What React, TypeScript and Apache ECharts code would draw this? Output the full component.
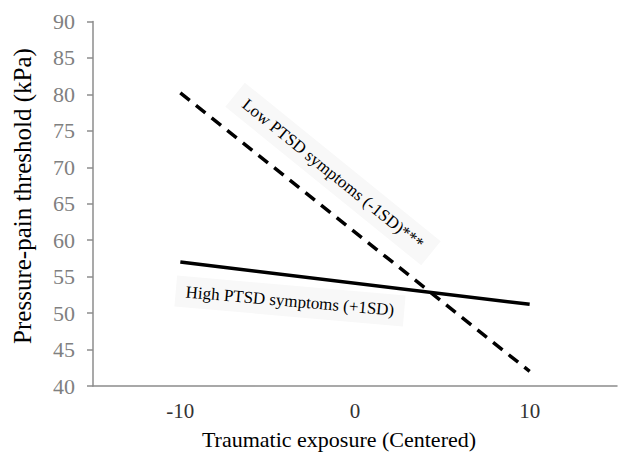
import React, { useEffect, useRef } from "react";
import * as echarts from "echarts";

const xTicks = [-10, 0, 10];
const lowPtsdX = [-10, 10];
const lowPtsdY = [80.2, 42.0];
const highPtsdX = [-10, 10];
const highPtsdY = [57.0, 51.2];

const SERIF = "Liberation Serif";

export default function App() {
  const ref = useRef<HTMLDivElement>(null);
  useEffect(() => {
    if (!ref.current) return;
    const chart = echarts.init(ref.current, undefined, { renderer: "svg" });
    chart.setOption({
      animation: false,
      backgroundColor: "#ffffff",
      textStyle: { fontFamily: SERIF },
      grid: { left: 93, right: 0, top: 21.5, bottom: 66, containLabel: false },
      xAxis: {
        type: "value",
        min: -15,
        max: 15,
        interval: 5,
        axisLine: { show: true, onZero: false, lineStyle: { color: "#8c8c8c", width: 1.5 } },
        axisTick: { show: false },
        splitLine: { show: false },
        axisLabel: {
          margin: 14,
          fontFamily: SERIF,
          fontSize: 21,
          color: "#333333",
          formatter: (v: number) => (xTicks.indexOf(v) >= 0 ? String(v) : ""),
        },
      },
      yAxis: {
        type: "value",
        min: 40,
        max: 90,
        interval: 5,
        axisLine: { show: true, onZero: false, lineStyle: { color: "#8c8c8c", width: 1.5 } },
        axisTick: { show: true, length: 6, lineStyle: { color: "#8c8c8c", width: 1.5 } },
        splitLine: { show: false },
        axisLabel: {
          margin: 18,
          fontFamily: SERIF,
          fontSize: 22,
          color: "#808080",
        },
      },
      graphic: [
        {
          type: "text",
          x: 22,
          y: 196,
          rotation: Math.PI / 2,
          style: {
            text: "Pressure-pain threshold (kPa)",
            fontFamily: SERIF,
            fontSize: 25,
            fill: "#000000",
            align: "center",
            verticalAlign: "middle",
          },
        },
        {
          type: "text",
          x: 339,
          y: 439,
          style: {
            text: "Traumatic exposure (Centered)",
            fontFamily: SERIF,
            fontSize: 22,
            fill: "#000000",
            align: "center",
            verticalAlign: "middle",
          },
        },
        {
          type: "text",
          x: 333,
          y: 174,
          rotation: (-39 * Math.PI) / 180,
          z: 10,
          style: {
            text: "Low PTSD symptoms (-1SD)***",
            fontFamily: SERIF,
            fontSize: 17,
            fill: "#000000",
            align: "center",
            verticalAlign: "middle",
            backgroundColor: "#f8f8f8",
            padding: [7, 12],
          },
        },
        {
          type: "text",
          x: 290,
          y: 301,
          rotation: (-5 * Math.PI) / 180,
          z: 10,
          style: {
            text: "High PTSD symptoms (+1SD)",
            fontFamily: SERIF,
            fontSize: 17,
            fill: "#000000",
            align: "center",
            verticalAlign: "middle",
            backgroundColor: "#f8f8f8",
            padding: [7, 10],
          },
        },
      ],
      series: [
        {
          name: "Low PTSD symptoms (-1SD)",
          type: "line",
          data: lowPtsdX.map((x, i) => [x, lowPtsdY[i]]),
          symbol: "none",
          z: 20,
          lineStyle: { color: "#000000", width: 3.5, type: [12, 8] },
        },
        {
          name: "High PTSD symptoms (+1SD)",
          type: "line",
          data: highPtsdX.map((x, i) => [x, highPtsdY[i]]),
          symbol: "none",
          z: 20,
          lineStyle: { color: "#000000", width: 3.5 },
        },
      ],
    });
    return () => chart.dispose();
  }, []);
  return <div ref={ref} style={{ width: 620, height: 452, position: "absolute", left: 0, top: 0 }} />;
}
